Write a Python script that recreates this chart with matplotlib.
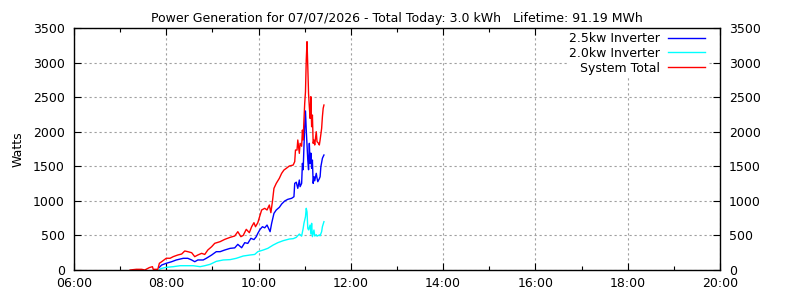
import matplotlib
matplotlib.use("Agg")
import matplotlib.pyplot as plt
from matplotlib.ticker import MultipleLocator, FuncFormatter

# readings (time of day, watts)
total_times = ["07:13", "07:21", "07:28", "07:32", "07:38", "07:42", "07:43", "07:49",
               "07:51", "07:54", "07:57", "08:00", "08:05", "08:09", "08:15", "08:20",
               "08:24", "08:28", "08:33", "08:37", "08:41", "08:46", "08:50", "08:54",
               "08:59", "09:03", "09:10", "09:16", "09:23", "09:29", "09:33", "09:37",
               "09:40", "09:44", "09:48", "09:51", "09:54", "09:56", "09:59", "10:02",
               "10:04", "10:08", "10:11", "10:14", "10:16", "10:18", "10:20", "10:23",
               "10:27", "10:30", "10:33", "10:36", "10:40", "10:45", "10:47", "10:48",
               "10:50", "10:51", "10:53", "10:54", "10:56", "10:57", "10:58", "10:59",
               "11:00", "11:01", "11:02", "11:03", "11:04", "11:05", "11:06", "11:07",
               "11:08", "11:09", "11:10", "11:11", "11:12", "11:13", "11:15", "11:16",
               "11:18", "11:19", "11:20", "11:22", "11:23", "11:24", "11:25"]
total_watts = [0, 10, 10, 0, 35, 48, 10, 10,
               97, 120, 145, 170, 170, 193, 217, 231,
               275, 265, 250, 193, 217, 241, 225, 289,
               337, 386, 410, 443, 472, 492, 554, 482,
               500, 588, 540, 626, 684, 626, 684, 795,
               868, 892, 868, 940, 829, 988, 1181, 1253,
               1326, 1398, 1446, 1470, 1504, 1518, 1567, 1735,
               1735, 1880, 1687, 1832, 1790, 2024, 1880, 2169,
               2410, 2578, 3037, 3302, 2940, 2550, 2361, 2193,
               2506, 2072, 2241, 1832, 1880, 1808, 2000, 1856,
               1832, 1808, 1880, 2048, 2217, 2338, 2386]

inv25_times = ["07:51", "07:54", "08:00", "08:07", "08:13", "08:22", "08:28", "08:33",
               "08:37", "08:41", "08:48", "08:52", "08:59", "09:05", "09:10", "09:16",
               "09:23", "09:29", "09:33", "09:38", "09:42", "09:46", "09:50", "09:54",
               "09:57", "09:59", "10:02", "10:05", "10:08", "10:11", "10:15", "10:17",
               "10:20", "10:23", "10:27", "10:30", "10:34", "10:38", "10:43", "10:46",
               "10:47", "10:49", "10:51", "10:53", "10:54", "10:56", "10:57", "10:58",
               "10:59", "11:00", "11:01", "11:02", "11:04", "11:05", "11:06", "11:07",
               "11:08", "11:09", "11:10", "11:11", "11:12", "11:13", "11:15", "11:16",
               "11:17", "11:19", "11:20", "11:21", "11:23", "11:24", "11:25"]
inv25_watts = [39, 72, 97, 120, 145, 169, 169, 145,
               120, 145, 145, 169, 217, 265, 265, 289,
               313, 320, 371, 322, 395, 385, 458, 440,
               482, 530, 588, 626, 610, 650, 554, 675,
               819, 868, 906, 954, 998, 1022, 1037, 1060,
               1253, 1270, 1181, 1301, 1205, 1253, 1542, 1450,
               1783, 2072, 2300, 2024, 1590, 1450, 1832, 1542,
               1690, 1470, 1590, 1253, 1349, 1290, 1398, 1330,
               1277, 1320, 1349, 1494, 1615, 1640, 1663]

inv20_times = ["07:51", "07:54", "08:00", "08:09", "08:18", "08:35", "08:44", "08:50",
               "08:57", "09:05", "09:14", "09:23", "09:31", "09:40", "09:49", "09:55",
               "09:59", "10:06", "10:12", "10:19", "10:25", "10:32", "10:40", "10:45",
               "10:49", "10:53", "10:56", "10:58", "10:59", "11:01", "11:02", "11:03",
               "11:04", "11:05", "11:07", "11:08", "11:09", "11:10", "11:12", "11:13",
               "11:15", "11:16", "11:19", "11:20", "11:22", "11:23", "11:25"]
inv20_watts = [10, 24, 39, 48, 62, 62, 48, 62,
               82, 125, 145, 150, 169, 202, 217, 225,
               265, 289, 313, 361, 395, 424, 448, 453,
               472, 520, 490, 603, 675, 771, 892, 840,
               603, 580, 650, 520, 675, 482, 578, 492,
               510, 490, 506, 495, 554, 626, 699]

title = "Power Generation for 07/07/2026 - Total Today: 3.0 kWh   Lifetime: 91.19 MWh"


def to_hours(times):
    return [int(t[:2]) + int(t[3:]) / 60 for t in times]


plt.rcParams["font.family"] = "DejaVu Sans"
plt.rcParams["font.size"] = 9

fig = plt.figure(figsize=(8, 3), dpi=100)
ax = fig.add_axes([0.0925, 0.1, 0.8075, 0.8067])

ax.plot(to_hours(inv25_times), inv25_watts, color="#0000ff", lw=1.0, label="2.5kw Inverter")
ax.plot(to_hours(inv20_times), inv20_watts, color="#00ffff", lw=1.0, label="2.0kw Inverter")
ax.plot(to_hours(total_times), total_watts, color="#ff0000", lw=1.0, label="System Total")

ax.set_xlim(6, 20)
ax.set_ylim(0, 3500)
ax.xaxis.set_major_locator(MultipleLocator(2))
ax.xaxis.set_minor_locator(MultipleLocator(1))
ax.xaxis.set_major_formatter(FuncFormatter(lambda v, p: "%02d:00" % int(round(v))))
ax.yaxis.set_major_locator(MultipleLocator(500))

ax.tick_params(which="both", direction="in", top=True, right=True, labelright=True)
ax.tick_params(axis="y", pad=6.5)
ax.tick_params(axis="x", pad=5)
ax.tick_params(which="major", length=5, width=0.8)
ax.tick_params(which="minor", length=3, width=0.8)
for s in ax.spines.values():
    s.set_linewidth(1.0)
    s.set_zorder(6)

ax.grid(True, which="major", color="#a0a0a0", linestyle=(0, (2, 2.5)), linewidth=0.8)
ax.set_axisbelow(True)

ax.set_ylabel("Watts", labelpad=6)
ax.set_title(title, fontsize=9, pad=4)

leg = ax.legend(loc="upper right", bbox_to_anchor=(0.981, 0.994), markerfirst=False,
                frameon=True, fancybox=False, edgecolor="none", facecolor="white",
                framealpha=1.0, handlelength=3.0, labelspacing=0.15, borderpad=0.2,
                borderaxespad=0.0, handletextpad=0.6)
for t in leg.get_texts():
    t.set_ha("right")

fig.savefig("out.png", dpi=100)
plt.close(fig)
